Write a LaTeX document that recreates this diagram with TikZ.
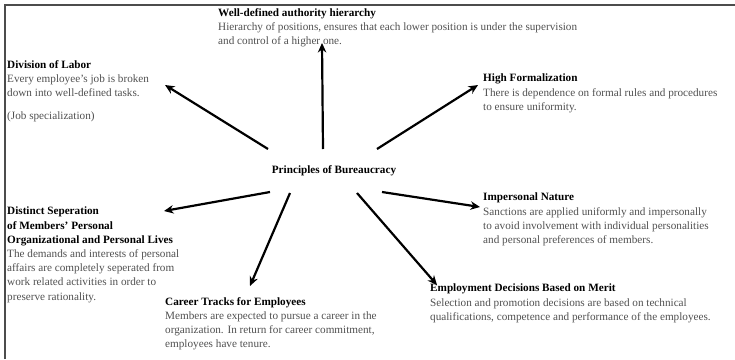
\documentclass[tikz,border=0pt]{standalone}
\usepackage{fontspec}
\setmainfont{Liberation Serif}
\usetikzlibrary{arrows.meta}
\definecolor{bodygray}{RGB}{80,80,80}
\newcommand{\hd}[1]{\textbf{\color{black}#1}}
\begin{document}
\begin{tikzpicture}[x=1pt,y=-1pt,
  blk/.style={anchor=north west,inner sep=0pt,align=left,text=bodygray,
    font=\fontsize{11.2}{14.2}\selectfont},
  arr/.style={line width=2.2pt,-{Stealth[length=9.5pt,width=8.5pt]}},
  frame/.style={draw=black!70,line width=1.2pt}]
\useasboundingbox (0,0) rectangle (735,359);
\draw[frame] (5,359) -- (5,5) -- (735,5);

\node[blk] (div) at (7,60) {\hd{Division of Labor}\\Every employee's job is broken\\down into well-defined tasks.\\[9pt](Job specialization)};
\node[blk] (hier) at (218,8) {\hd{Well-defined authority hierarchy}\\Hierarchy of positions, ensures that each lower position is under the supervision\\and control of a higher one.};
\node[blk] (form) at (483,74) {\hd{High Formalization}\\There is dependence on formal rules and procedures\\to ensure uniformity.};
\node[blk] (imp) at (483,193) {\hd{Impersonal Nature}\\Sanctions are applied uniformly and impersonally\\to avoid involvement with individual personalities\\and personal preferences of members.};
\node[blk] (merit) at (430,284) {\hd{Employment Decisions Based on Merit}\\Selection and promotion decisions are based on technical\\qualifications, competence and performance of the employees.};
\node[blk] (career) at (165,297) {\hd{Career Tracks for Employees}\\Members are expected to pursue a career in the\\organization. In return for career commitment,\\employees have tenure.};
\node[blk] (sep) at (7,207) {\hd{Distinct Seperation}\\\hd{of Members' Personal}\\\hd{Organizational and Personal Lives}\\The demands and interests of personal\\affairs are completely seperated from\\work related activities in order to\\preserve rationality.};

\node[inner sep=0pt,font=\fontsize{11.2}{14.2}\selectfont\bfseries] (c) at (334,171) {Principles of Bureaucracy};

\coordinate (s1) at (268,149); \coordinate (e1) at (165,85);
\coordinate (s2) at (323,149); \coordinate (e2) at (322,43);
\coordinate (s3) at (377,149); \coordinate (e3) at (478,85);
\coordinate (s4) at (382,192); \coordinate (e4) at (480,207);
\coordinate (s5) at (357,193); \coordinate (e5) at (437,285);
\coordinate (s6) at (290,193); \coordinate (e6) at (250,286);
\coordinate (s7) at (270,192); \coordinate (e7) at (164,211);
\foreach \i in {1,...,7} \draw[arr] (s\i) -- (e\i);
\end{tikzpicture}
\end{document}
